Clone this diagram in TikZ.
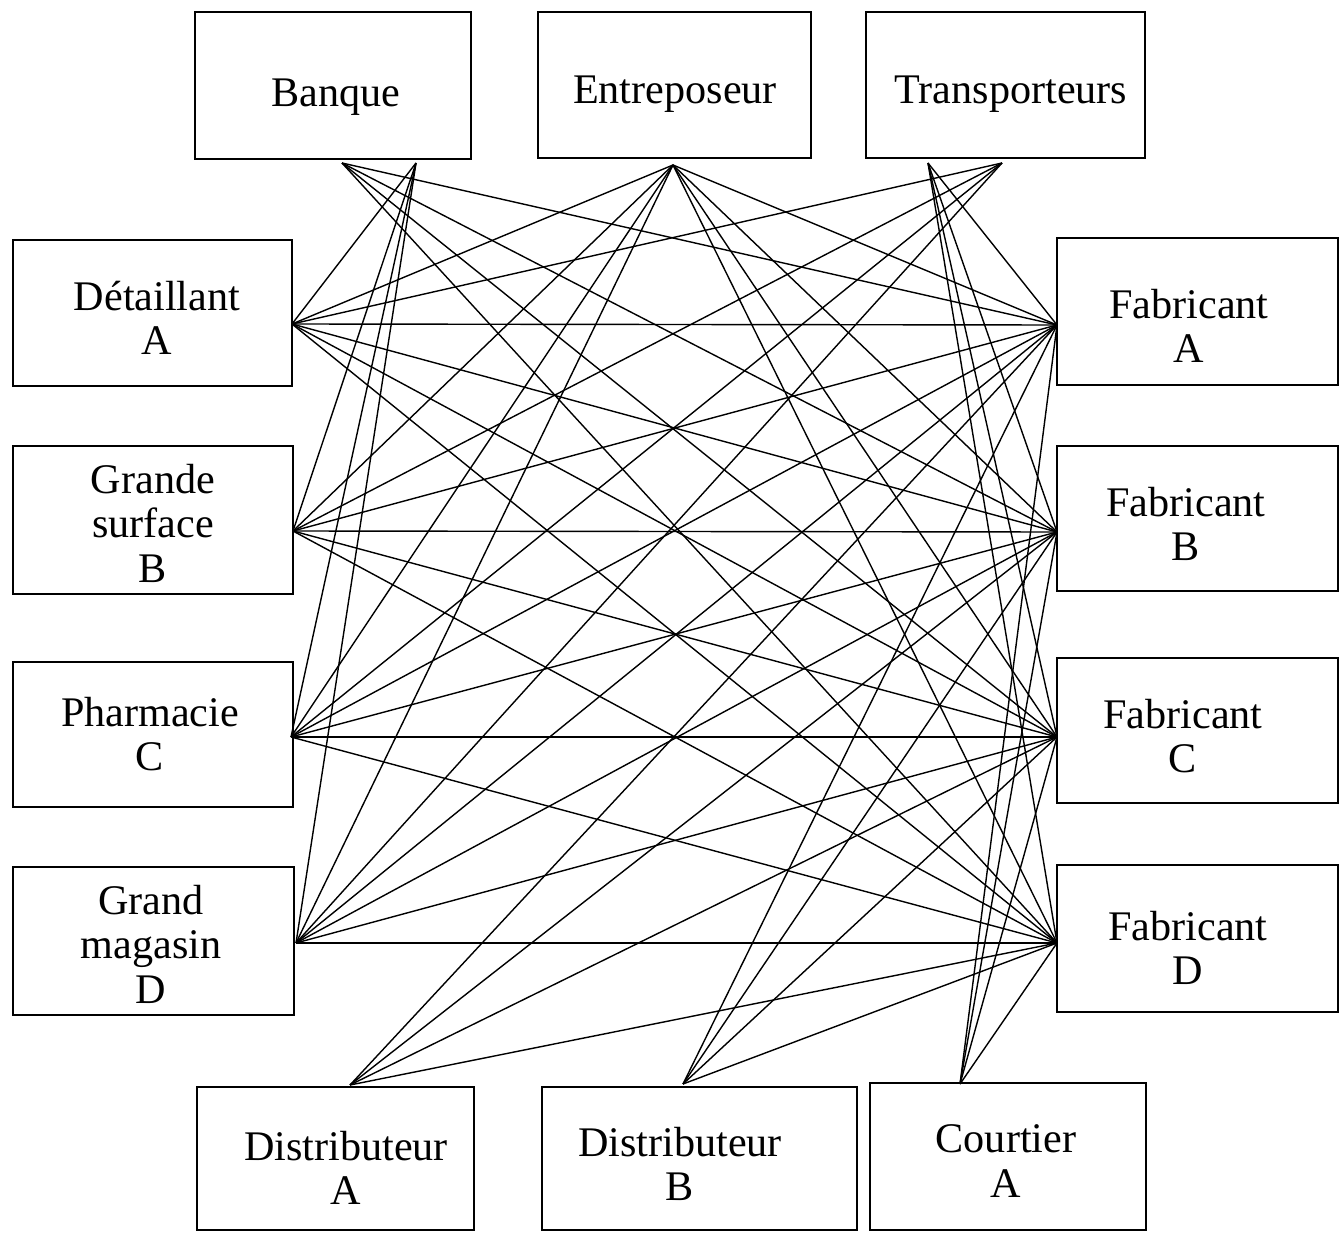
\documentclass[tikz,border=0pt]{standalone}
\usepackage{fontspec}
\setmainfont{Liberation Serif}
\usetikzlibrary{fit}
\begin{document}
\begin{tikzpicture}[x=0.02cm,y=-0.02cm,
  box/.style={draw, line width=1.6pt, inner sep=0pt},
  lbl/.style={align=center, font=\fontsize{24}{25.3}\selectfont, inner sep=0pt},
  link/.style={line width=0.8pt}]
\useasboundingbox (0,0) rectangle (1340,1233);

% top row
\node[box, fit={(195,12) (471,159)}] (bq) {};
\node[box, fit={(538,12) (811,158)}] (ent) {};
\node[box, fit={(866,12) (1145,158)}] (tra) {};
\node[lbl] (bqt) at (336,97) {Banque};
\node[lbl] (entt) at (675,94) {Entreposeur};
\node[lbl] (trat) at (1011,94) {Transporteurs};

% left column: retailers
\node[box, fit={(13,240) (292,386)}] (det) {};
\node[box, fit={(13,446) (293,594)}] (gsu) {};
\node[box, fit={(13,662) (293,807)}] (pha) {};
\node[box, fit={(13,867) (294,1015)}] (gma) {};
\node[lbl] (dett) at (157,318) {Détaillant\\A};
\node[lbl] (gsut) at (153,523) {Grande\\surface\\B};
\node[lbl] (phat) at (150,734) {Pharmacie\\C};
\node[lbl] (gmat) at (151,944) {Grand\\magasin\\D};

% right column: manufacturers
\node[box, fit={(1057,238) (1338,385)}] (fba) {};
\node[box, fit={(1057,446) (1338,591)}] (fbb) {};
\node[box, fit={(1057,658) (1338,803)}] (fbc) {};
\node[box, fit={(1057,865) (1338,1012)}] (fbd) {};
\node[lbl] (fbat) at (1189,326) {Fabricant\\A};
\node[lbl] (fbbt) at (1186,524) {Fabricant\\B};
\node[lbl] (fbct) at (1183,736) {Fabricant\\C};
\node[lbl] (fbdt) at (1188,948) {Fabricant\\D};

% bottom row
\node[box, fit={(197,1087) (474,1230)}] (dia) {};
\node[box, fit={(542,1087) (857,1230)}] (dib) {};
\node[box, fit={(870,1083) (1146,1230)}] (cou) {};
\node[lbl] (diat) at (346,1168) {Distributeur\\A};
\node[lbl] (dibt) at (680,1164) {Distributeur\\B};
\node[lbl] (cout) at (1006,1161) {Courtier\\A};

% attachment points of the links
\coordinate (bqL) at (342,163);
\coordinate (bqR) at (416,163);
\coordinate (en)  at (673,165);
\coordinate (trL) at (928,163);
\coordinate (trR) at (1002,163);
\coordinate (dA) at (292,324);
\coordinate (gB) at (293,531);
\coordinate (pC) at (291,737);
\coordinate (mD) at (296,943);
\coordinate (fA) at (1057,325);
\coordinate (fB) at (1057,532);
\coordinate (fC) at (1057,737);
\coordinate (fD) at (1057,943);
\coordinate (dsA) at (350,1085);
\coordinate (dsB) at (683,1084);
\coordinate (co)  at (960,1084);

% retailers: bank, warehouse, carriers and every manufacturer
\foreach \l in {dA,gB,pC,mD}
  \foreach \t in {bqR,en,trR,fA,fB,fC,fD}
    \draw[link] (\l) -- (\t);

% manufacturers: bank, warehouse, carriers, distributors and broker
\foreach \r in {fA,fB,fC,fD}
  \foreach \t in {bqL,en,trL,dsA,dsB,co}
    \draw[link] (\r) -- (\t);
\end{tikzpicture}
\end{document}
